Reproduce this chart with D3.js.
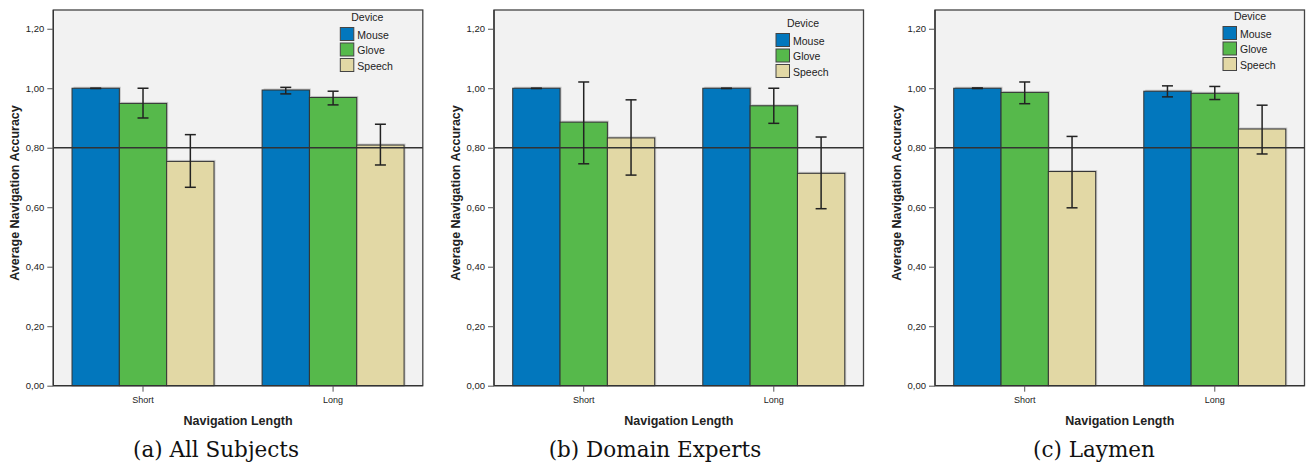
<!DOCTYPE html>
<html>
<head>
<meta charset="utf-8">
<script src="https://cdn.jsdelivr.net/npm/d3@7"></script>
<style>
  body { margin: 0; background: #fff; }
  text { font-family: "Liberation Sans", Arial, sans-serif; fill: #222; }
  .caption { font-family: "DejaVu Serif", serif; fill: #111; }
</style>
</head>
<body>
<div id="chart"></div>
<script>
const categories = ["Short", "Long"];
const devices = ["Mouse", "Glove", "Speech"];
const captions = ["(a) All Subjects", "(b) Domain Experts", "(c) Laymen"];
const yTicks = [0, 0.2, 0.4, 0.6, 0.8, 1.0, 1.2];
const refLine = 0.8;

// means per category (Short, Long), each with Mouse, Glove, Speech
const allMean = [[1.0, 0.949, 0.754], [0.994, 0.969, 0.809]];
const allLow = [[0.999, 0.90, 0.667], [0.981, 0.944, 0.742]];
const allHigh = [[1.0, 1.0, 0.844], [1.003, 0.99, 0.879]];

const expertMean = [[1.0, 0.886, 0.833], [1.0, 0.941, 0.714]];
const expertLow = [[0.999, 0.746, 0.708], [0.999, 0.882, 0.595]];
const expertHigh = [[1.0, 1.021, 0.961], [1.0, 1.0, 0.836]];

const laymenMean = [[1.0, 0.986, 0.720], [0.990, 0.983, 0.863]];
const laymenLow = [[0.999, 0.948, 0.598], [0.971, 0.962, 0.779]];
const laymenHigh = [[1.001, 1.021, 0.838], [1.008, 1.006, 0.943]];

const panelData = [
  { mean: allMean, low: allLow, high: allHigh, legendX: 287, legendY: 0 },
  { mean: expertMean, low: expertLow, high: expertHigh, legendX: 282, legendY: 6 },
  { mean: laymenMean, low: laymenLow, high: laymenHigh, legendX: 288, legendY: -1 }
];

const colors = ["#0277bd", "#56b94b", "#e2d8a5"];

const width = 1309, height = 466;
const panelLeft = [53.3, 494, 935];
const plotW = 369.5;
const plotTop = 10, plotBottom = 385.7;

const svg = d3.select("#chart").append("svg")
  .attr("width", width).attr("height", height);

const y = d3.scaleLinear().domain([0, 1.263]).range([plotBottom, plotTop]);
const color = d3.scaleOrdinal().domain(devices).range(colors);
const fmt = d => d3.format(".2f")(d).replace(".", ",");

panelData.forEach((p, i) => {
  const g = svg.append("g").attr("transform", `translate(${panelLeft[i]},0)`);

  const x0 = d3.scaleBand().domain(categories).range([0, plotW])
    .paddingInner(0.253).paddingOuter(0.0985);
  const x1 = d3.scaleBand().domain(devices).range([0, x0.bandwidth()]);

  // plot background
  g.append("rect")
    .attr("x", 0).attr("y", plotTop)
    .attr("width", plotW).attr("height", plotBottom - plotTop)
    .attr("fill", "#f2f2f2")
    .attr("stroke", "#444").attr("stroke-width", 1.3);

  // bars
  categories.forEach((c, ci) => {
    const cg = g.append("g").attr("transform", `translate(${x0(c)},0)`);
    const rows = devices.map((d, di) => ({
      device: d, mean: p.mean[ci][di], low: p.low[ci][di], high: p.high[ci][di]
    }));
    // soft shadow
    cg.selectAll(".shadow").data(rows).join("rect")
      .attr("x", d => x1(d.device) + 1.5)
      .attr("y", d => y(d.mean) - 1.5)
      .attr("width", x1.bandwidth())
      .attr("height", d => plotBottom - y(d.mean) + 1.5)
      .attr("fill", "#c8c8c8");
    cg.selectAll(".bar").data(rows).join("rect")
      .attr("x", d => x1(d.device))
      .attr("y", d => y(d.mean))
      .attr("width", x1.bandwidth())
      .attr("height", d => plotBottom - y(d.mean))
      .attr("fill", d => color(d.device))
      .attr("stroke", "#333").attr("stroke-width", 1);
  });

  // reference line
  g.append("line")
    .attr("x1", 0).attr("x2", plotW)
    .attr("y1", y(refLine)).attr("y2", y(refLine))
    .attr("stroke", "#333").attr("stroke-width", 1.4);

  // error bars
  categories.forEach((c, ci) => {
    devices.forEach((d, di) => {
      const cx = x0(c) + x1(d) + x1.bandwidth() / 2;
      const yl = y(p.low[ci][di]), yh = y(p.high[ci][di]);
      const eg = g.append("g").attr("stroke", "#222").attr("stroke-width", 1.5);
      eg.append("line").attr("x1", cx).attr("x2", cx).attr("y1", yl).attr("y2", yh);
      eg.append("line").attr("x1", cx - 5.5).attr("x2", cx + 5.5).attr("y1", yl).attr("y2", yl);
      eg.append("line").attr("x1", cx - 5.5).attr("x2", cx + 5.5).attr("y1", yh).attr("y2", yh);
    });
  });

  // y axis
  const yAxis = g.append("g")
    .call(d3.axisLeft(y).tickValues(yTicks).tickFormat(fmt).tickSize(6).tickPadding(3));
  yAxis.select(".domain").attr("stroke", "#333").attr("stroke-width", 1.3)
    .attr("d", `M0,${plotBottom}V${plotTop}`);
  yAxis.selectAll(".tick line").attr("stroke", "#555");
  yAxis.selectAll(".tick text").attr("font-size", 9.5).attr("fill", "#333")
    .style("font-family", "'Liberation Sans', Arial, sans-serif");

  // x axis
  const xAxis = g.append("g").attr("transform", `translate(0,${plotBottom})`)
    .call(d3.axisBottom(x0).tickSize(6).tickPadding(5));
  xAxis.select(".domain").attr("stroke", "#333").attr("stroke-width", 1.3)
    .attr("d", `M0,0H${plotW}`);
  xAxis.selectAll(".tick line").attr("stroke", "#555");
  xAxis.selectAll(".tick text").attr("font-size", 9).attr("fill", "#333")
    .style("font-family", "'Liberation Sans', Arial, sans-serif");

  // axis titles
  g.append("text")
    .attr("x", plotW / 2).attr("y", 425)
    .attr("text-anchor", "middle")
    .attr("font-size", 12.5).attr("font-weight", "bold")
    .text("Navigation Length");

  g.append("text")
    .attr("transform", `translate(-34,193) rotate(-90)`)
    .attr("text-anchor", "middle")
    .attr("font-size", 12.5).attr("font-weight", "bold")
    .text("Average Navigation Accuracy");

  // legend
  const lg = g.append("g").attr("transform", `translate(${p.legendX},${p.legendY})`);
  lg.append("text")
    .attr("x", 27).attr("y", 21)
    .attr("text-anchor", "middle")
    .attr("font-size", 10.5).attr("fill", "#333")
    .text("Device");
  devices.forEach((d, di) => {
    lg.append("rect")
      .attr("x", 0).attr("y", 27.5 + di * 15.5)
      .attr("width", 13.5).attr("height", 13)
      .attr("fill", color(d))
      .attr("stroke", "#444").attr("stroke-width", 1);
    lg.append("text")
      .attr("x", 17).attr("y", 38.5 + di * 15.5)
      .attr("font-size", 10.5).attr("fill", "#333")
      .text(d);
  });

  // caption
  svg.append("text")
    .attr("class", "caption")
    .attr("x", 216 + i * 439).attr("y", 457)
    .attr("text-anchor", "middle")
    .attr("font-size", 21.5)
    .text(captions[i]);
});
</script>
</body>
</html>
